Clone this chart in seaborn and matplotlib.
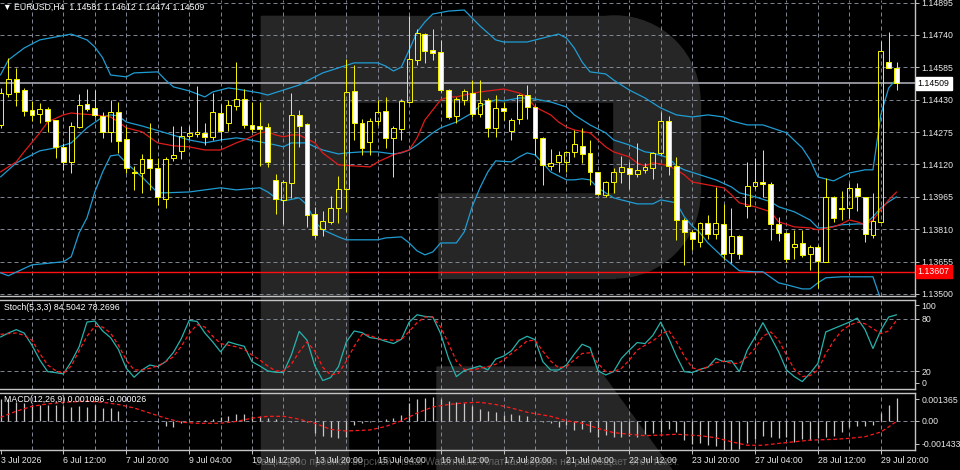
import numpy as np
import seaborn as sns
import matplotlib.pyplot as plt
from matplotlib.patches import Rectangle, Circle, Polygon
from matplotlib.transforms import blended_transform_factory

# EURUSD H4 candles (index 0 = 3 Jul 04:00)
opens = [1.14309, 1.14457, 1.14529, 1.14476, 1.14381, 1.14362, 1.14386, 1.14333, 1.14204, 1.14132,
         1.14299, 1.14409, 1.14390, 1.14352, 1.14276, 1.14371, 1.14242, 1.14084, 1.14079, 1.14146,
         1.14103, 1.13955, 1.14151, 1.14185, 1.14256, 1.14266, 1.14271, 1.14252, 1.14366, 1.14319,
         1.14400, 1.14433, 1.14309, 1.14304, 1.14299, 1.14046, 1.13950, 1.14032, 1.14357, 1.14314,
         1.13883, 1.13811, 1.13845, 1.13912, 1.14003, 1.14472, 1.14319, 1.14228, 1.14328, 1.14376,
         1.14247, 1.14290, 1.14419, 1.14620, 1.14744, 1.14668, 1.14658, 1.14476, 1.14352, 1.14429,
         1.14462, 1.14362, 1.14429, 1.14295, 1.14390, 1.14280, 1.14338, 1.14452, 1.14395, 1.14247,
         1.14113, 1.14132, 1.14132, 1.14180, 1.14209, 1.14175, 1.14084, 1.13974, 1.14036, 1.14084,
         1.14103, 1.14075, 1.14094, 1.14103, 1.14175, 1.14328, 1.14113, 1.13854, 1.13797, 1.13749,
         1.13840, 1.13788, 1.13835, 1.13697, 1.13778, 1.13922, 1.14017, 1.14036, 1.14027, 1.13835,
         1.13792, 1.13725, 1.13744, 1.13692, 1.13725, 1.13654, 1.13965, 1.13912, 1.13912, 1.14008,
         1.13965, 1.13783, 1.13845, 1.14610, 1.14581]
highs = [1.14486, 1.14630, 1.14582, 1.14486, 1.14424, 1.14414, 1.14395, 1.14333, 1.14223, 1.14323,
         1.14457, 1.14481, 1.14476, 1.14371, 1.14429, 1.14419, 1.14299, 1.14113, 1.14170, 1.14319,
         1.14151, 1.14156, 1.14304, 1.14304, 1.14304, 1.14496, 1.14319, 1.14462, 1.14409, 1.14429,
         1.14610, 1.14481, 1.14419, 1.14419, 1.14319, 1.14075, 1.14046, 1.14462, 1.14381, 1.14319,
         1.13917, 1.13898, 1.13969, 1.14065, 1.14625, 1.14596, 1.14338, 1.14342, 1.14429, 1.14443,
         1.14304, 1.14433, 1.14830, 1.14768, 1.14749, 1.14768, 1.14716, 1.14481, 1.14443, 1.14481,
         1.14524, 1.14524, 1.14438, 1.14452, 1.14419, 1.14342, 1.14457, 1.14500, 1.14400, 1.14252,
         1.14194, 1.14185, 1.14185, 1.14285, 1.14295, 1.14237, 1.14084, 1.14041, 1.14103, 1.14161,
         1.14132, 1.14223, 1.14127, 1.14180, 1.14371, 1.14352, 1.14156, 1.13864, 1.13807, 1.13845,
         1.13878, 1.14012, 1.13931, 1.13912, 1.13783, 1.14132, 1.14151, 1.14189, 1.14036, 1.13869,
         1.13797, 1.13807, 1.13807, 1.13735, 1.13735, 1.14055, 1.13969, 1.13993, 1.14032, 1.14032,
         1.13965, 1.13984, 1.14711, 1.14754, 1.14612]
lows = [1.14295, 1.14443, 1.14400, 1.14352, 1.14328, 1.14319, 1.14276, 1.14151, 1.14094, 1.14079,
        1.14295, 1.14376, 1.14347, 1.14247, 1.14228, 1.14175, 1.14079, 1.13998, 1.13984, 1.13998,
        1.13926, 1.13912, 1.14137, 1.14146, 1.14242, 1.14252, 1.14213, 1.14237, 1.14237, 1.14280,
        1.14381, 1.14295, 1.14276, 1.14113, 1.14108, 1.13883, 1.13835, 1.13960, 1.14204, 1.13821,
        1.13768, 1.13778, 1.13835, 1.13840, 1.13893, 1.14237, 1.14166, 1.14166, 1.14309, 1.14199,
        1.14060, 1.14237, 1.14414, 1.14596, 1.14606, 1.14620, 1.14467, 1.14338, 1.14319, 1.14405,
        1.14347, 1.14347, 1.14252, 1.14252, 1.14333, 1.14237, 1.14314, 1.14338, 1.14166, 1.14022,
        1.14094, 1.14084, 1.14084, 1.14156, 1.14127, 1.14022, 1.13974, 1.13965, 1.13984, 1.14032,
        1.14003, 1.14060, 1.14079, 1.14051, 1.14166, 1.14070, 1.13759, 1.13639, 1.13711, 1.13725,
        1.13764, 1.13764, 1.13668, 1.13649, 1.13668, 1.13864, 1.14003, 1.13965, 1.13759, 1.13754,
        1.13654, 1.13668, 1.13678, 1.13615, 1.13529, 1.13654, 1.13845, 1.13854, 1.13864, 1.13898,
        1.13749, 1.13768, 1.13845, 1.14582, 1.14474]
closes = [1.14462, 1.14529, 1.14467, 1.14376, 1.14357, 1.14386, 1.14328, 1.14204, 1.14132, 1.14304,
          1.14405, 1.14386, 1.14357, 1.14276, 1.14371, 1.14232, 1.14103, 1.14079, 1.14146, 1.14103,
          1.13965, 1.14146, 1.14166, 1.14256, 1.14271, 1.14276, 1.14252, 1.14371, 1.14280, 1.14405,
          1.14433, 1.14309, 1.14290, 1.14290, 1.14132, 1.13955, 1.14036, 1.14357, 1.14304, 1.13878,
          1.13783, 1.13850, 1.13912, 1.14003, 1.14467, 1.14319, 1.14199, 1.14328, 1.14371, 1.14247,
          1.14295, 1.14424, 1.14625, 1.14749, 1.14663, 1.14653, 1.14476, 1.14347, 1.14433, 1.14472,
          1.14362, 1.14414, 1.14295, 1.14390, 1.14376, 1.14333, 1.14452, 1.14395, 1.14247, 1.14118,
          1.14127, 1.14166, 1.14180, 1.14218, 1.14170, 1.14084, 1.13979, 1.14036, 1.14084, 1.14108,
          1.14075, 1.14094, 1.14108, 1.14175, 1.14328, 1.14113, 1.13854, 1.13797, 1.13764, 1.13840,
          1.13788, 1.13840, 1.13692, 1.13778, 1.13692, 1.14017, 1.14036, 1.14027, 1.13835, 1.13792,
          1.13668, 1.13740, 1.13687, 1.13725, 1.13658, 1.13965, 1.13864, 1.13907, 1.14008, 1.13969,
          1.13788, 1.13850, 1.14663, 1.14582, 1.14509]

# indicator lines (candle index, value)
bb_upper_x = [0, 1, 3, 5, 7, 9, 10, 11, 12, 13, 14, 16, 17, 20, 21, 22, 24, 26, 27, 29,
              30, 33, 34, 36, 38, 40, 41, 43, 45, 48, 49, 50, 51, 52, 53, 54, 55, 57, 59, 60,
              61, 63, 64, 67, 69, 71, 72, 73, 74, 75, 77, 78, 80, 82, 84, 86, 88, 90, 92, 93,
              95, 97, 100, 102, 103, 104, 106, 107, 108, 110, 111, 112, 113, 114]
bb_upper = [1.14548, 1.14620, 1.14677, 1.14716, 1.14730, 1.14744, 1.14730, 1.14716, 1.14682, 1.14630,
            1.14548, 1.14539, 1.14558, 1.14563, 1.14524, 1.14491, 1.14472, 1.14443, 1.14467, 1.14486,
            1.14481, 1.14462, 1.14452, 1.14476, 1.14500, 1.14539, 1.14558, 1.14582, 1.14606, 1.14606,
            1.14591, 1.14567, 1.14586, 1.14668, 1.14754, 1.14802, 1.14840, 1.14854, 1.14859, 1.14821,
            1.14783, 1.14716, 1.14706, 1.14706, 1.14725, 1.14744, 1.14725, 1.14677, 1.14610, 1.14563,
            1.14553, 1.14524, 1.14476, 1.14438, 1.14390, 1.14357, 1.14347, 1.14357, 1.14347, 1.14328,
            1.14309, 1.14309, 1.14271, 1.14199, 1.14142, 1.14060, 1.14041, 1.14060, 1.14079, 1.14094,
            1.14094, 1.14357, 1.14486, 1.14529]

ma_blue_x = [0, 2, 5, 7, 9, 11, 13, 14, 15, 16, 18, 21, 24, 26, 28, 30, 31, 33, 35, 36,
             37, 39, 40, 41, 43, 44, 46, 48, 50, 51, 52, 53, 55, 56, 58, 60, 61, 63, 64, 66,
             67, 68, 70, 72, 73, 75, 77, 78, 80, 82, 83, 85, 86, 87, 89, 91, 93, 94, 96, 98,
             99, 101, 103, 104, 105, 107, 109, 110, 111, 112, 113, 114]
ma_blue = [1.14060, 1.14127, 1.14185, 1.14199, 1.14223, 1.14295, 1.14347, 1.14357, 1.14352, 1.14323,
           1.14304, 1.14271, 1.14237, 1.14223, 1.14237, 1.14247, 1.14242, 1.14228, 1.14213, 1.14204,
           1.14223, 1.14223, 1.14204, 1.14189, 1.14170, 1.14175, 1.14180, 1.14180, 1.14170, 1.14175,
           1.14189, 1.14213, 1.14271, 1.14295, 1.14323, 1.14366, 1.14400, 1.14429, 1.14424, 1.14438,
           1.14438, 1.14433, 1.14419, 1.14395, 1.14357, 1.14309, 1.14271, 1.14237, 1.14213, 1.14180,
           1.14175, 1.14151, 1.14113, 1.14094, 1.14070, 1.14046, 1.14012, 1.13984, 1.13965, 1.13941,
           1.13917, 1.13893, 1.13854, 1.13816, 1.13816, 1.13831, 1.13835, 1.13835, 1.13869, 1.13912,
           1.13941, 1.13965]

ma_red_x = [0, 2, 3, 5, 6, 8, 9, 10, 12, 14, 15, 16, 18, 20, 22, 24, 26, 28, 30, 31,
            33, 34, 35, 36, 37, 38, 40, 41, 43, 45, 47, 48, 50, 52, 53, 54, 56, 57, 58, 59,
            61, 63, 64, 66, 67, 68, 70, 71, 72, 73, 75, 76, 77, 78, 80, 81, 82, 83, 84, 85,
            86, 87, 88, 90, 92, 93, 94, 96, 98, 99, 101, 103, 104, 106, 107, 108, 109, 110, 111, 112,
            113, 114]
ma_red = [1.14084, 1.14132, 1.14180, 1.14271, 1.14323, 1.14357, 1.14366, 1.14362, 1.14357, 1.14347,
          1.14323, 1.14295, 1.14276, 1.14223, 1.14209, 1.14204, 1.14189, 1.14189, 1.14223, 1.14237,
          1.14271, 1.14276, 1.14261, 1.14252, 1.14261, 1.14261, 1.14223, 1.14175, 1.14118, 1.14113,
          1.14108, 1.14132, 1.14166, 1.14189, 1.14247, 1.14333, 1.14429, 1.14443, 1.14443, 1.14452,
          1.14467, 1.14476, 1.14481, 1.14462, 1.14443, 1.14395, 1.14357, 1.14323, 1.14299, 1.14285,
          1.14271, 1.14237, 1.14204, 1.14180, 1.14156, 1.14127, 1.14113, 1.14127, 1.14122, 1.14113,
          1.14094, 1.14070, 1.14036, 1.14022, 1.14008, 1.13974, 1.13936, 1.13917, 1.13893, 1.13845,
          1.13821, 1.13816, 1.13807, 1.13821, 1.13835, 1.13854, 1.13845, 1.13831, 1.13854, 1.13902,
          1.13950, 1.13988]

bb_lower_x = [0, 1, 4, 8, 9, 10, 11, 12, 13, 14, 15, 16, 18, 20, 21, 24, 26, 28, 30, 33,
              34, 35, 36, 38, 39, 40, 41, 43, 44, 48, 49, 51, 52, 53, 54, 55, 56, 58, 59, 60,
              61, 62, 63, 65, 66, 67, 68, 69, 70, 72, 73, 74, 75, 76, 78, 79, 81, 83, 84, 86,
              87, 88, 89, 90, 92, 94, 96, 97, 99, 100, 102, 103, 104, 105, 107, 109, 111, 112, 113, 114]
bb_lower = [1.13601, 1.13587, 1.13639, 1.13654, 1.13678, 1.13792, 1.13864, 1.13988, 1.14084, 1.14161,
            1.14166, 1.14127, 1.14060, 1.13984, 1.13984, 1.13988, 1.13998, 1.14008, 1.13998, 1.14008,
            1.13988, 1.13960, 1.13945, 1.13960, 1.13926, 1.13845, 1.13807, 1.13773, 1.13759, 1.13759,
            1.13768, 1.13773, 1.13744, 1.13706, 1.13687, 1.13701, 1.13744, 1.13744, 1.13797, 1.13917,
            1.14008, 1.14084, 1.14137, 1.14132, 1.14156, 1.14175, 1.14166, 1.14127, 1.14084, 1.14046,
            1.14046, 1.14051, 1.14046, 1.14008, 1.13960, 1.13950, 1.13931, 1.13931, 1.13950, 1.13936,
            1.13869, 1.13826, 1.13792, 1.13744, 1.13673, 1.13611, 1.13606, 1.13606, 1.13553, 1.13544,
            1.13524, 1.13524, 1.13553, 1.13577, 1.13582, 1.13582, 1.13582, 1.13472, 1.13386, 1.13328]

stoch_k = [59.1, 63.7, 67.5, 63.7, 49.7, 32.7, 19.4, 18.3, 16.8, 30.8,
           47.8, 76.2, 77.4, 66.0, 58.4, 44.8, 23.2, 13.0, 21.3, 27.0,
           25.1, 30.8, 41.4, 57.2, 78.1, 77.0, 63.7, 53.5, 42.1, 53.5,
           50.8, 48.5, 30.8, 25.9, 20.2, 18.7, 18.3, 38.4, 65.6, 55.4,
           25.9, 9.2, 12.6, 25.1, 53.5, 66.0, 64.1, 58.4, 57.2, 54.2,
           51.6, 56.5, 76.2, 84.6, 82.7, 82.0, 62.9, 34.6, 13.7, 20.6,
           23.2, 25.9, 21.3, 33.8, 37.2, 43.3, 55.4, 59.9, 56.1, 30.8,
           21.3, 21.3, 27.0, 39.5, 50.8, 47.0, 20.6, 15.6, 19.4, 34.6,
           44.0, 52.7, 51.6, 61.0, 76.2, 57.9, 37.2, 19.4, 18.3, 22.1,
           24.4, 34.6, 30.8, 31.9, 19.4, 44.0, 59.1, 75.5, 59.1, 42.1,
           21.3, 13.7, 8.0, 17.5, 28.9, 64.9, 68.7, 72.4, 76.2, 80.8,
           67.5, 45.9, 66.8, 82.0, 84.5]
stoch_d = [62.2, 62.9, 63.7, 61.0, 55.4, 40.2, 27.0, 20.6, 17.5, 25.9,
           43.3, 59.9, 71.3, 70.5, 63.7, 49.7, 32.7, 21.3, 21.3, 23.2,
           25.9, 30.8, 36.5, 48.5, 62.9, 73.2, 70.5, 59.9, 51.6, 49.7,
           47.8, 44.8, 38.4, 32.7, 25.9, 20.2, 20.2, 27.8, 42.1, 53.5,
           42.9, 24.4, 15.6, 17.5, 31.5, 48.5, 62.2, 61.0, 57.2, 56.1,
           55.4, 56.1, 65.6, 75.5, 82.0, 82.0, 70.5, 51.6, 31.5, 22.0,
           21.3, 23.2, 25.1, 27.8, 32.7, 40.2, 47.0, 54.6, 55.4, 42.9,
           31.5, 23.9, 25.1, 32.7, 40.2, 41.0, 28.9, 19.4, 19.4, 23.2,
           32.7, 44.0, 49.7, 54.6, 61.8, 66.8, 53.5, 37.2, 23.9, 21.3,
           25.1, 29.6, 31.5, 28.9, 28.9, 36.5, 46.0, 59.9, 64.9, 55.4,
           38.4, 22.0, 13.7, 14.9, 21.3, 40.2, 54.6, 66.0, 72.4, 76.2,
           74.3, 68.7, 62.9, 66.0, 78.3]

macd_hist = [0.00105, 0.00105, 0.00093, 0.00085, 0.00080, 0.00080, 0.00080, 0.00080, 0.00075, 0.00068,
             0.00071, 0.00068, 0.00080, 0.00063, 0.00063, 0.00046, 0.00005, 0.00001, -0.00001, -0.00003,
             -0.00008, -0.00025, -0.00028, -0.00012, -0.00003, 0.00001, 0.00005, 0.00008, 0.00017, 0.00025,
             0.00033, 0.00035, 0.00025, 0.00022, 0.00013, 0.00008, -0.00001, -0.00005, -0.00003, -0.00008,
             -0.00061, -0.00073, -0.00078, -0.00086, -0.00078, -0.00020, -0.00012, -0.00008, 0.00001, 0.00008,
             0.00013, 0.00030, 0.00088, 0.00105, 0.00113, 0.00118, 0.00108, 0.00096, 0.00091, 0.00085,
             0.00075, 0.00060, 0.00047, 0.00042, 0.00030, 0.00035, 0.00027, 0.00025, -0.00001, -0.00008,
             -0.00012, -0.00028, -0.00020, -0.00045, -0.00042, -0.00053, -0.00078, -0.00070, -0.00078, -0.00078,
             -0.00073, -0.00078, -0.00066, -0.00058, -0.00053, -0.00042, -0.00053, -0.00095, -0.00115, -0.00111,
             -0.00120, -0.00125, -0.00141, -0.00141, -0.00136, -0.00111, -0.00091, -0.00073, -0.00078, -0.00086,
             -0.00078, -0.00103, -0.00091, -0.00095, -0.00086, -0.00078, -0.00075, -0.00053, -0.00032, -0.00025,
             -0.00025, -0.00022, 0.00038, 0.00080, 0.001096]
macd_signal_x = [0, 2, 4, 6, 8, 11, 13, 15, 17, 19, 21, 23, 25, 28, 30, 32, 34, 36, 38, 40,
                 42, 44, 47, 49, 51, 53, 55, 57, 59, 61, 63, 65, 67, 70, 72, 74, 76, 78, 80, 82,
                 84, 86, 89, 91, 93, 95, 97, 99, 101, 103, 106, 108, 110, 112, 113, 114]
macd_signal = [0.00017, 0.00047, 0.00071, 0.00083, 0.00091, 0.00096, 0.00091, 0.00080, 0.00063, 0.00038,
               0.00013, -0.00007, -0.00012, -0.00012, -0.00003, 0.00013, 0.00022, 0.00022, 0.00008, -0.00012,
               -0.00042, -0.00050, -0.00045, -0.00028, 0.00000, 0.00038, 0.00068, 0.00080, 0.00088, 0.00091,
               0.00080, 0.00063, 0.00042, 0.00022, 0.00000, -0.00012, -0.00037, -0.00058, -0.00066, -0.00073,
               -0.00070, -0.00066, -0.00073, -0.00083, -0.00103, -0.00120, -0.00120, -0.00111, -0.00103, -0.00095,
               -0.00091, -0.00086, -0.00078, -0.00055, -0.00030, -0.000026]

date_label_idx = [0, 8, 16, 24, 32, 40, 48, 56, 64, 72, 80, 88, 96, 104, 112]
date_labels = ['3 Jul 2026', '6 Jul 12:00', '7 Jul 20:00', '9 Jul 04:00', '10 Jul 12:00',
               '13 Jul 20:00', '15 Jul 04:00', '16 Jul 12:00', '17 Jul 20:00', '21 Jul 04:00',
               '22 Jul 12:00', '23 Jul 20:00', '27 Jul 04:00', '28 Jul 12:00', '29 Jul 20:00']
price_ticks = [1.14895, 1.14740, 1.14585, 1.14430, 1.14275, 1.14120, 1.13965, 1.13810, 1.13655, 1.13500]
last_price = 1.14509
support_level = 1.13607

YELLOW = '#f0f000'
BLUE = '#1f9cd3'
RED = '#e01b1b'
GRID = '#7d8391'
EDGE = '#c4c4c4'
FS = 6.3
PX = 0.72  # one pixel in points

sns.set_theme(style='dark')
plt.rcParams['font.family'] = ['Liberation Sans', 'DejaVu Sans']

fig = plt.figure(figsize=(9.6, 4.7), dpi=100, facecolor='black')

# watermark logo behind the chart
wm = fig.add_axes([0, 0, 1, 1], zorder=-5)
wm.set_xlim(0, 960)
wm.set_ylim(470, 0)
wm.axis('off')
R_GRAY = '#262626'
wm.add_patch(Rectangle((261, 16), 354, 262, color=R_GRAY))
wm.add_patch(Rectangle((615, 101), 85, 92, color=R_GRAY))
wm.add_patch(Circle((615, 101), 85, color=R_GRAY))
wm.add_patch(Circle((615, 193), 85, color=R_GRAY))
wm.add_patch(Rectangle((348, 103), 264, 89, color='black'))
wm.add_patch(Rectangle((348, 192), 89, 86, color='black'))
wm.add_patch(Rectangle((261, 16), 87, 454, color=R_GRAY))
wm.add_patch(Polygon([(437, 367), (597, 367), (672, 470), (437, 470)], closed=True, color=R_GRAY))


def make_panel(top, bottom, show_top=True):
    ax = fig.add_axes([0, 1 - bottom / 470, 915 / 960, (bottom - top) / 470])
    ax.set_facecolor('none')
    ax.set_xlim(-0.064, 116.35)
    for side, sp in ax.spines.items():
        sp.set_color(EDGE)
        sp.set_linewidth(1.0)
    ax.spines['left'].set_visible(False)
    ax.spines['top'].set_visible(show_top)
    ax.yaxis.tick_right()
    ax.tick_params(axis='y', length=3, width=0.7, color=EDGE, labelcolor='#e8e8e8',
                   labelsize=FS, pad=1.5, left=False, right=True)
    ax.tick_params(axis='x', bottom=False, labelbottom=False)
    for k in range(4, 116, 4):
        ax.axvline(k, color=GRID, lw=PX, ls=(0, (4, 3)), zorder=0.5)
    return ax


idx = np.arange(len(closes))
o = np.array(opens)
c = np.array(closes)
body_lo = np.minimum(o, c)
body_hi = np.maximum(o, c)

# ---- price panel ----
ax = make_panel(0, 296, show_top=False)
ax.set_ylim(1.13490, 1.14907)
for p in price_ticks:
    ax.axhline(p, color=GRID, lw=PX, ls=(0, (4, 3)), zorder=0.5)
ax.set_yticks(price_ticks, [f'{p:.5f}' for p in price_ticks])

ax.axhline(last_price, color='#9b9ba5', lw=1.3, zorder=1)
ax.axhline(support_level, color='#ff1010', lw=1.0, zorder=1)

sns.lineplot(x=bb_upper_x, y=bb_upper, ax=ax, color=BLUE, lw=0.9, zorder=2)
sns.lineplot(x=bb_lower_x, y=bb_lower, ax=ax, color=BLUE, lw=0.9, zorder=2)
sns.lineplot(x=ma_blue_x, y=ma_blue, ax=ax, color=BLUE, lw=0.9, zorder=2)
sns.lineplot(x=ma_red_x, y=ma_red, ax=ax, color=RED, lw=0.9, zorder=2)

ax.vlines(idx, body_hi, highs, color=YELLOW, lw=PX, zorder=3)
ax.vlines(idx, lows, body_lo, color=YELLOW, lw=PX, zorder=3)
fills = ['none' if cl >= op else 'white' for op, cl in zip(opens, closes)]
ax.bar(idx, body_hi - body_lo, bottom=body_lo, width=0.62, color=fills,
       edgecolor=YELLOW, linewidth=PX, zorder=4)
ax.set_xlabel('')
ax.set_ylabel('')

tr = blended_transform_factory(ax.transAxes, ax.transData)
ax.text(1.003, last_price, f'{last_price:.5f}', transform=tr, fontsize=FS, color='black',
        va='center', ha='left', clip_on=False, zorder=10,
        bbox=dict(boxstyle='square,pad=0.22', fc='white', ec='white'))
ax.text(1.003, support_level, f'{support_level:.5f}', transform=tr, fontsize=FS, color='white',
        va='center', ha='left', clip_on=False, zorder=10,
        bbox=dict(boxstyle='square,pad=0.22', fc='#ff0000', ec='#ff0000'))

# ---- stochastic panel ----
ax_st = make_panel(300, 389)
ax_st.set_ylim(-0.5, 101.5)
for lvl in (80, 20):
    ax_st.axhline(lvl, color=GRID, lw=PX, ls=(0, (4, 3)), zorder=0.5)
sns.lineplot(x=idx, y=stoch_k, ax=ax_st, color='#27b3ad', lw=0.9, zorder=3)
sns.lineplot(x=idx, y=stoch_d, ax=ax_st, color='#ff1a1a', lw=0.9, ls=(0, (3, 2)), zorder=3)
ax_st.set_yticks([95.5, 80, 20, 6.5], ['100', '80', '20', '0'])
ax_st.set_xlabel('')
ax_st.set_ylabel('')

# ---- MACD panel ----
ax_m = make_panel(393, 450)
ax_m.set_ylim(-0.001433, 0.001365)
ax_m.axhline(0, color=GRID, lw=PX, ls=(0, (4, 3)), zorder=0.5)
ax_m.vlines(idx, 0, macd_hist, color='#c8c8c8', lw=0.9, zorder=2)
sns.lineplot(x=macd_signal_x, y=macd_signal, ax=ax_m, color='#ff1a1a', lw=0.9,
             ls=(0, (3, 2)), zorder=3)
ax_m.set_yticks([0.00107, 0.0, -0.001138], ['0.001365', '0.00', '-0.001433'])
ax_m.set_xlabel('')
ax_m.set_ylabel('')
ax_m.set_xticks(date_label_idx, date_labels)
ax_m.tick_params(axis='x', bottom=True, labelbottom=True, length=3, width=0.7, color=EDGE,
                 labelcolor='#e8e8e8', labelsize=FS, pad=1.2)
for lab in ax_m.get_xticklabels():
    lab.set_horizontalalignment('left')

# ---- texts ----
fig.text(3 / 960, 1 - 7 / 470, '\u25bc EURUSD,H4  1.14581 1.14612 1.14474 1.14509',
         color='white', fontsize=FS, va='center', ha='left')
fig.text(4 / 960, 1 - 307 / 470, 'Stoch(5,3,3) 84.5042 78.2696',
         color='white', fontsize=FS, va='center', ha='left')
fig.text(4 / 960, 1 - 400 / 470, 'MACD(12,26,9) 0.001096 -0.000026',
         color='white', fontsize=FS, va='center', ha='left')
fig.text(255 / 960, 1 - 462 / 470,
         'Защищено пробной версией Visual Watermark. Платная версия не размещает этот текст.',
         color='#9a9a9a', alpha=0.55, fontsize=7.4, va='center', ha='left')

fig.savefig('out.png', dpi=100, facecolor='black')
